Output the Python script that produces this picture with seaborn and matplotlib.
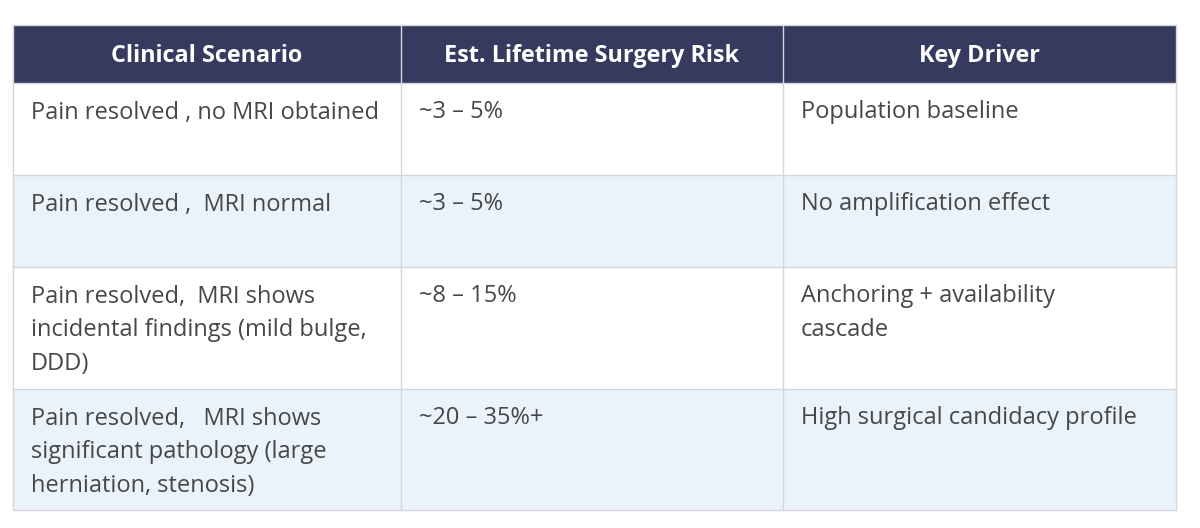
import matplotlib
matplotlib.use("Agg")
import matplotlib.pyplot as plt
import seaborn as sns

sns.set_theme(style="white")
plt.rcParams['font.family'] = ['Open Sans', 'DejaVu Sans']

headers = ["Clinical Scenario", "Est. Lifetime Surgery Risk", "Key Driver"]
scenarios = [
    "Pain resolved , no MRI obtained",
    "Pain resolved ,  MRI normal",
    "Pain resolved,  MRI shows\nincidental findings (mild bulge,\nDDD)",
    "Pain resolved,   MRI shows\nsignificant pathology (large\nherniation, stenosis)",
]
risks = ["~3 – 5%", "~3 – 5%", "~8 – 15%", "~20 – 35%+"]
drivers = [
    "Population baseline",
    "No amplification effect",
    "Anchoring + availability\ncascade",
    "High surgical candidacy profile",
]

# layout (pixels)
W, H = 1200, 528
col_edges = [12.5, 400.5, 782.5, 1176]
header_top, header_bot = 25, 83
row_edges = [83, 175, 267, 389, 510]

header_color = "#363a5f"
stripe_color = "#eaf2fa"
border_color = "#d3d6db"
text_color = "#474747"

fig = plt.figure(figsize=(W / 100, H / 100), dpi=100)
ax = fig.add_axes([0, 0, 1, 1])
ax.set_xlim(0, W)
ax.set_ylim(H, 0)
ax.axis("off")

# header
ax.add_patch(plt.Rectangle((col_edges[0], header_top), col_edges[-1] - col_edges[0],
                           header_bot - header_top, facecolor=header_color, edgecolor="none"))
for j, h in enumerate(headers):
    cx = (col_edges[j] + col_edges[j + 1]) / 2
    ax.text(cx, 61.5, h, color="white", fontsize=16.8, fontweight="bold",
            ha="center", va="baseline")

rows = list(zip(scenarios, risks, drivers))
for i, row in enumerate(rows):
    top, bot = row_edges[i], row_edges[i + 1]
    fc = stripe_color if i % 2 == 1 else "white"
    ax.add_patch(plt.Rectangle((col_edges[0], top), col_edges[-1] - col_edges[0],
                               bot - top, facecolor=fc, edgecolor="none"))
    for j, txt in enumerate(row):
        for k, line in enumerate(txt.split("\n")):
            ax.text(col_edges[j] + 18.5, top + 35.5 + 33.8 * k, line, color=text_color,
                    fontsize=17, ha="left", va="baseline")

# grid lines
lw = 1.0
for y in [header_top] + row_edges:
    ax.plot([col_edges[0], col_edges[-1]], [y, y], color=border_color, lw=lw)
for x in col_edges:
    ax.plot([x, x], [header_top, row_edges[-1]], color=border_color, lw=lw)

fig.savefig("out.png", dpi=100)
